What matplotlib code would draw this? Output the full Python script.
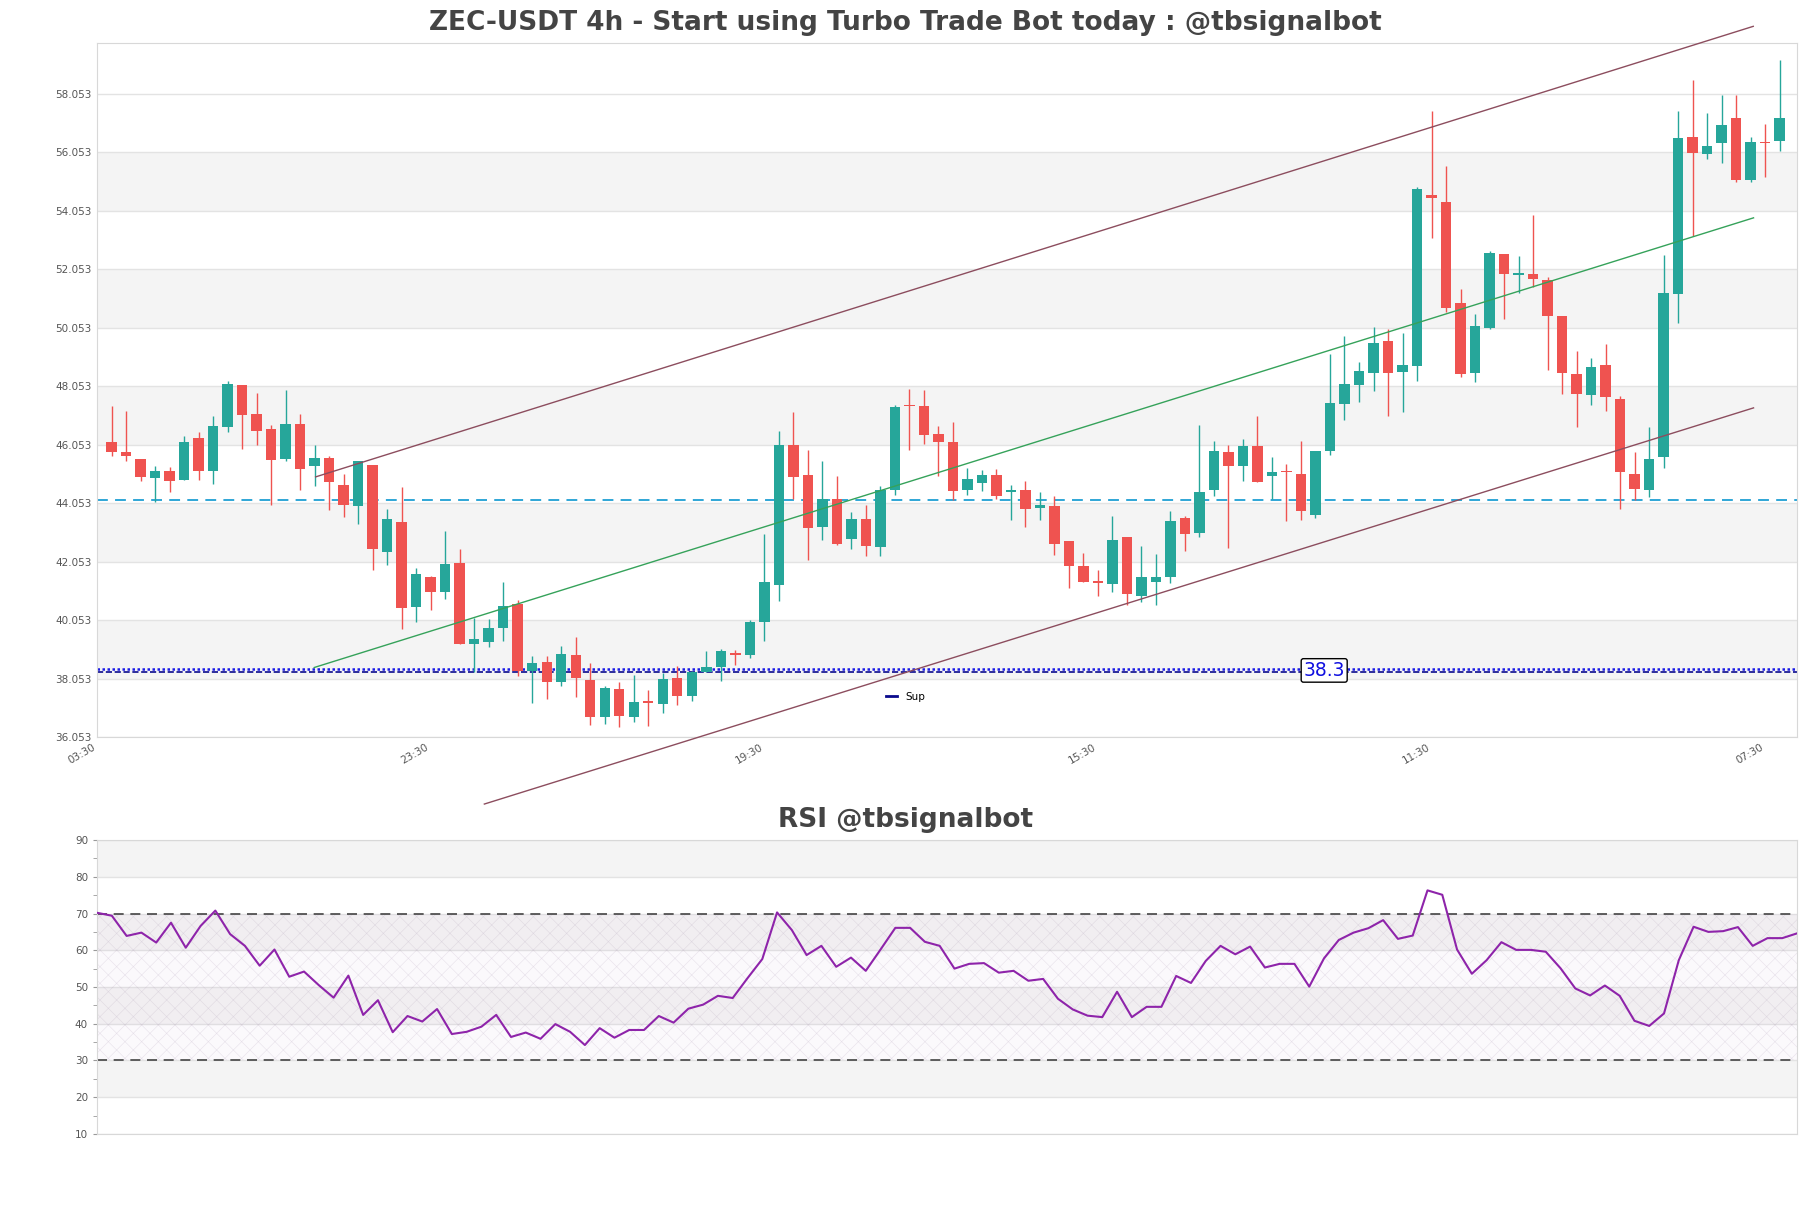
import numpy as np
import matplotlib
matplotlib.use("Agg")
import matplotlib.pyplot as plt
from matplotlib.ticker import MultipleLocator

# 4h candles
opens = [46.14, 45.80, 45.56, 44.90, 45.16, 44.85, 46.28, 45.14, 46.65, 48.09,
         47.11, 46.60, 45.57, 46.77, 45.33, 45.61, 44.68, 43.96, 45.37, 42.39,
         43.40, 40.51, 41.53, 41.02, 42.01, 39.24, 39.31, 39.79, 40.61, 38.32,
         38.62, 37.95, 38.86, 38.00, 36.72, 37.70, 36.72, 37.28, 37.19, 38.07,
         37.47, 38.29, 38.46, 38.92, 38.86, 39.97, 41.24, 46.05, 45.03, 43.22,
         44.19, 42.81, 43.52, 42.54, 44.49, 47.39, 47.37, 46.43, 46.16, 44.51,
         44.73, 45.03, 44.44, 44.49, 43.88, 43.95, 42.75, 41.89, 41.40, 41.28,
         42.88, 40.86, 41.37, 41.54, 43.54, 43.03, 44.49, 45.80, 45.31, 45.99,
         44.98, 45.15, 45.06, 43.66, 45.85, 47.45, 48.09, 48.49, 49.61, 48.53,
         48.75, 54.60, 54.35, 50.89, 48.49, 50.03, 52.58, 51.87, 51.89, 51.70,
         50.46, 48.47, 47.76, 48.78, 47.61, 45.05, 44.49, 45.62, 51.20, 56.57,
         56.00, 56.37, 57.22, 55.12, 56.42, 56.43]
highs = [47.39, 47.22, 45.56, 45.33, 45.29, 46.36, 46.49, 47.02, 48.22, 48.09,
         47.82, 46.74, 47.92, 47.11, 46.05, 45.68, 45.06, 45.51, 45.37, 43.86,
         44.60, 41.83, 41.57, 43.11, 42.49, 40.12, 40.09, 41.36, 40.74, 38.83,
         38.83, 39.17, 39.49, 38.57, 37.80, 37.92, 38.18, 37.66, 38.23, 38.49,
         38.32, 39.00, 39.06, 39.03, 40.06, 43.00, 46.51, 47.16, 45.88, 45.48,
         44.99, 43.75, 44.00, 44.65, 47.42, 47.97, 47.92, 46.68, 46.83, 45.25,
         45.20, 45.23, 44.68, 44.82, 44.42, 44.28, 42.75, 42.34, 41.75, 43.62,
         42.91, 42.57, 42.32, 43.79, 43.60, 46.73, 46.17, 46.03, 46.25, 47.02,
         45.62, 45.40, 46.19, 45.85, 49.15, 49.77, 48.89, 50.09, 50.02, 49.86,
         54.86, 57.45, 55.57, 51.38, 50.52, 52.67, 52.58, 52.52, 53.91, 51.78,
         50.46, 49.27, 49.02, 49.49, 47.70, 45.81, 46.66, 52.54, 57.48, 58.51,
         57.40, 58.02, 58.00, 56.59, 57.03, 59.20]
lows = [45.65, 45.48, 44.82, 44.08, 44.42, 44.85, 44.85, 44.72, 46.47, 45.92,
        46.03, 44.00, 45.48, 44.51, 44.63, 43.83, 43.57, 43.35, 41.77, 41.92,
        39.75, 39.97, 40.40, 40.78, 39.24, 38.26, 39.14, 39.35, 38.14, 37.23,
        37.36, 37.80, 37.43, 36.46, 36.50, 36.41, 36.58, 36.44, 36.86, 37.15,
        37.30, 38.26, 37.98, 38.52, 38.77, 39.35, 40.69, 44.19, 42.12, 42.78,
        42.61, 42.49, 42.26, 42.23, 44.32, 45.86, 46.08, 44.97, 44.17, 44.32,
        44.45, 44.19, 43.48, 43.23, 43.48, 42.29, 41.15, 41.37, 40.89, 41.00,
        40.57, 40.68, 40.57, 41.31, 42.43, 42.90, 44.31, 42.51, 44.80, 44.77,
        44.20, 43.43, 43.46, 43.54, 45.71, 46.91, 47.52, 47.90, 47.04, 47.18,
        48.24, 53.11, 50.58, 48.35, 48.18, 50.01, 50.35, 51.23, 51.46, 48.61,
        47.80, 46.64, 47.42, 47.21, 43.85, 44.17, 44.25, 45.27, 50.20, 53.20,
        55.83, 55.68, 55.03, 55.03, 55.22, 56.09]
closes = [45.79, 45.65, 44.93, 45.16, 44.80, 46.14, 45.16, 46.70, 48.12, 47.08,
          46.51, 45.54, 46.77, 45.23, 45.61, 44.76, 44.00, 45.48, 42.49, 43.52,
          40.48, 41.63, 41.02, 41.98, 39.24, 39.41, 39.77, 40.54, 38.32, 38.58,
          37.95, 38.90, 38.08, 36.72, 37.73, 36.78, 37.25, 37.22, 38.04, 37.47,
          38.29, 38.46, 39.00, 38.86, 39.99, 41.34, 46.03, 44.93, 43.19, 44.19,
          42.66, 43.52, 42.57, 44.51, 47.34, 47.36, 46.37, 46.13, 44.45, 44.89,
          45.03, 44.31, 44.49, 43.84, 43.99, 42.64, 41.89, 41.37, 41.32, 42.80,
          40.93, 41.54, 41.52, 43.45, 42.99, 44.43, 45.85, 45.31, 46.02, 44.77,
          45.13, 45.10, 43.77, 45.85, 47.48, 48.14, 48.58, 49.52, 48.49, 48.79,
          54.78, 54.48, 50.73, 48.47, 50.12, 52.61, 51.89, 51.91, 51.72, 50.46,
          48.49, 47.78, 48.72, 47.67, 45.10, 44.53, 45.55, 51.23, 56.53, 56.02,
          56.28, 56.97, 55.12, 56.42, 56.38, 57.22]

rsi = [70.2, 69.4, 63.9, 64.8, 62.1, 67.5, 60.7, 66.6, 70.8, 64.4,
       61.2, 55.8, 60.2, 52.8, 54.2, 50.5, 47.1, 53.1, 42.4, 46.4,
       37.7, 42.1, 40.6, 44.0, 37.2, 37.8, 39.2, 42.4, 36.4, 37.6,
       35.9, 39.9, 37.8, 34.2, 38.8, 36.2, 38.3, 38.3, 42.1, 40.3,
       44.1, 45.2, 47.6, 47.0, 52.4, 57.6, 70.3, 65.5, 58.7, 61.2,
       55.5, 58.0, 54.4, 60.2, 66.1, 66.1, 62.3, 61.2, 55.0, 56.3,
       56.5, 53.9, 54.4, 51.7, 52.2, 46.8, 43.9, 42.2, 41.8, 48.7,
       41.8, 44.6, 44.6, 53.0, 51.1, 57.1, 61.2, 58.9, 61.0, 55.3,
       56.3, 56.3, 50.1, 57.8, 62.8, 64.8, 66.0, 68.2, 63.1, 64.0,
       76.3, 75.1, 60.2, 53.6, 57.3, 62.2, 60.1, 60.1, 59.6, 55.1,
       49.6, 47.7, 50.4, 47.6, 40.8, 39.4, 42.8, 57.3, 66.4, 65.0,
       65.2, 66.3, 61.2, 63.3, 63.3, 64.6]

tick_pos = [0, 23, 46, 69, 92, 115]
tick_labels = ["03:30", "23:30", "19:30", "15:30", "11:30", "07:30"]

# channel lines (x start, x end), (y start, y end)
upper_x, upper_y = [15.07, 114.18], [44.95, 60.36]
mid_x, mid_y = [14.97, 114.2], [38.43, 53.81]
lower_x, lower_y = [26.7, 114.2], [33.76, 47.31]

resist_level = 44.16
sup_dotted = 38.37
sup_level = 38.28
sup_text = "38.3"

x = np.arange(1, len(opens) + 1)
o = np.array(opens); h = np.array(highs); l = np.array(lows); c = np.array(closes)
up = c >= o
col = np.where(up, "#26a69a", "#ef5350")

fig = plt.figure(figsize=(18.11, 12.08), dpi=100)
ax = fig.add_axes([0.0536, 0.3899, 0.9387, 0.5745])
ax2 = fig.add_axes([0.0536, 0.0613, 0.9387, 0.2433])

# --- price panel
yt = np.arange(36.053, 58.1, 2)
for b in yt[1:-1:2]:
    ax.axhspan(b, b + 2, color="#f4f4f4", zorder=0, lw=0)
for v in yt:
    ax.axhline(v, color="#e3e3e3", lw=1, zorder=0.5)

ax.vlines(x, l, h, colors=col, lw=1, zorder=2)
ax.bar(x, np.maximum(np.abs(c - o), 0.04), bottom=np.minimum(o, c), width=0.72,
       color=col, zorder=3)

ax.plot(upper_x, upper_y, color="#8c4d5e", lw=1, clip_on=False, zorder=4)
ax.plot(lower_x, lower_y, color="#8c4d5e", lw=1, clip_on=False, zorder=4)
ax.plot(mid_x, mid_y, color="#35a25a", lw=1, zorder=4)

ax.axhline(resist_level, color="#1f9fd3", ls=(0, (6, 4)), lw=1.3, zorder=1.5)
ax.axhline(sup_dotted, color="#1a1ae6", ls=(0, (1, 1)), lw=1.8, zorder=1.5)
ax.axhline(sup_level, color="#0a0a8c", ls="--", lw=1.2, zorder=1.5, label="Sup")
ax.text(84.6, 38.33, sup_text, color="#1010e0", fontsize=13.5, ha="center", va="center",
        zorder=6, bbox=dict(boxstyle="round,pad=0.12", fc="white", ec="black", lw=1))

leg = ax.legend(loc="center", bbox_to_anchor=(0.5, 0.423), bbox_transform=fig.transFigure,
                frameon=False, fontsize=7.5, handlelength=1.0, handletextpad=0.8)
for ln in leg.get_lines():
    ln.set_linestyle("-")
    ln.set_linewidth(2)

ax.set_xlim(0, 117.2)
ax.set_ylim(36.053, 59.79)
ax.set_yticks(yt)
ax.set_yticklabels(["%.3f" % v for v in yt])
ax.set_xticks(tick_pos)
ax.set_xticklabels(tick_labels, rotation=30, ha="right")
ax.tick_params(axis="both", length=0, labelsize=7.5, labelcolor="#555555", pad=4)
for s in ax.spines.values():
    s.set_color("#d8d8d8")

# --- RSI panel
xr = np.arange(len(rsi))
for b in [20, 40, 60, 80]:
    ax2.axhspan(b, b + 10, color="#f4f4f4", zorder=0, lw=0)
for v in range(10, 91, 10):
    ax2.axhline(v, color="#e3e3e3", lw=1, zorder=0.5)
plt.rcParams["hatch.linewidth"] = 0.4
ax2.fill_between([0, len(rsi) - 1], 30, 70, facecolor=(0.6, 0.3, 0.7, 0.03),
                 edgecolor=(0.55, 0.45, 0.6, 0.18), hatch="xx", lw=0, zorder=1)
ax2.axhline(70, color="#444444", ls=(0, (6, 4)), lw=1.2, zorder=2)
ax2.axhline(30, color="#444444", ls=(0, (6, 4)), lw=1.2, zorder=2)
ax2.plot(xr, rsi, color="#8e24aa", lw=1.5, zorder=3)
ax2.set_xlim(0, len(rsi) - 1)
ax2.set_ylim(10, 90)
ax2.set_yticks(range(10, 91, 10))
ax2.yaxis.set_minor_locator(MultipleLocator(5))
ax2.set_xticks([])
ax2.tick_params(axis="y", which="both", length=3, color="#999999", labelsize=7.5,
                labelcolor="#555555")
for s in ax2.spines.values():
    s.set_color("#d8d8d8")

fig.text(0.5, 0.981, "ZEC-USDT 4h - Start using Turbo Trade Bot today : @tbsignalbot",
         ha="center", va="center", fontsize=19, fontweight="bold", color="#444444")
fig.text(0.5, 0.321, "RSI @tbsignalbot", ha="center", va="center", fontsize=19,
         fontweight="bold", color="#444444")

fig.savefig("out.png", dpi=100)
